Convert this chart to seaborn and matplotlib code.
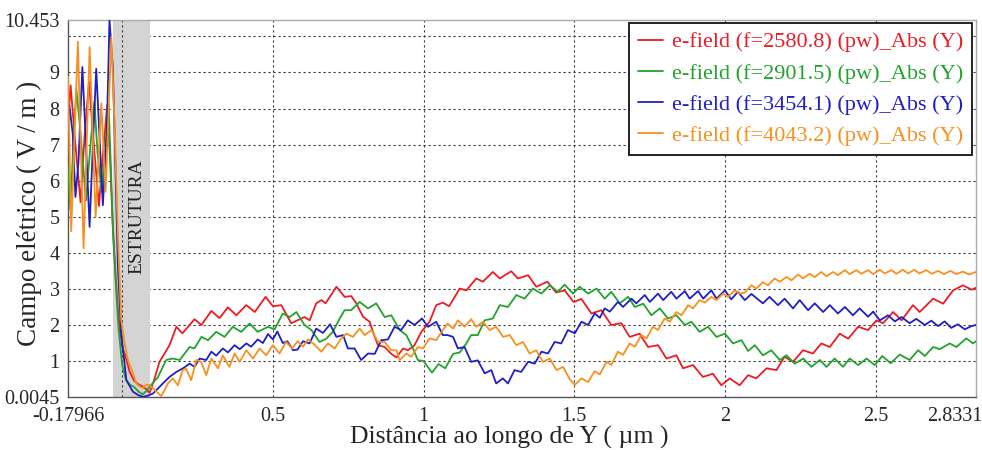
import matplotlib
matplotlib.use("Agg")
import matplotlib.pyplot as plt
import matplotlib.transforms as mtransforms
import seaborn as sns
import pandas as pd

# ---------------- data ----------------
labels = ["e-field (f=2580.8) (pw)_Abs (Y)",
          "e-field (f=2901.5) (pw)_Abs (Y)",
          "e-field (f=3454.1) (pw)_Abs (Y)",
          "e-field (f=4043.2) (pw)_Abs (Y)"]
colors = ["#ec1c24", "#22a32c", "#1f1fc4", "#f7901e"]

red_pts = [(-0.17966, 7.6), (-0.171, 8.64), (-0.155, 7.0), (-0.138, 5.4), (-0.125, 7.2), (-0.11, 8.74),
           (-0.094, 7.0), (-0.077, 5.3), (-0.063, 6.8), (-0.0495, 8.1), (-0.04, 6.6), (-0.032, 4.9),
           (-0.022, 3.4), (-0.012, 2.2), (0.0, 1.4), (0.012, 1.1), (0.025, 0.7), (0.04, 0.45), (0.055, 0.35),
           (0.068, 0.3), (0.08, 0.22), (0.091, 0.12), (0.105, 0.45), (0.124, 0.98), (0.157, 1.44), (0.18, 1.95),
           (0.2, 1.77), (0.24, 2.16), (0.263, 2.0), (0.296, 2.39), (0.323, 2.19), (0.351, 2.49), (0.379, 2.27),
           (0.412, 2.55), (0.44, 2.36), (0.476, 2.78), (0.5, 2.52), (0.528, 2.55), (0.561, 2.05), (0.605, 2.22),
           (0.622, 2.13), (0.644, 2.6), (0.661, 2.69), (0.675, 2.6), (0.711, 3.06), (0.738, 2.78), (0.76, 2.8),
           (0.777, 2.6), (0.799, 2.23), (0.821, 2.09), (0.838, 1.67), (0.849, 1.44), (0.871, 1.39), (0.893, 1.2),
           (0.91, 1.1), (0.932, 1.35), (0.948, 1.3), (0.97, 1.44), (0.993, 1.81), (1.02, 2.09), (1.042, 2.55),
           (1.064, 2.62), (1.085, 2.52), (1.12, 3.01), (1.142, 2.96), (1.175, 3.29), (1.197, 3.2), (1.23, 3.47),
           (1.253, 3.29), (1.291, 3.49), (1.313, 3.29), (1.347, 3.38), (1.374, 3.06), (1.411, 3.2), (1.44, 2.9),
           (1.468, 2.96), (1.498, 2.64), (1.524, 2.72), (1.557, 2.32), (1.59, 2.41), (1.623, 2.0), (1.656, 2.05),
           (1.684, 1.67), (1.717, 1.76), (1.745, 1.39), (1.778, 1.44), (1.806, 1.07), (1.839, 1.16), (1.861, 0.8),
           (1.894, 0.89), (1.927, 0.56), (1.96, 0.65), (1.988, 0.33), (2.016, 0.52), (2.049, 0.33), (2.077, 0.61),
           (2.104, 0.52), (2.138, 0.8), (2.171, 0.75), (2.198, 1.12), (2.226, 0.98), (2.259, 1.3), (2.292, 1.21),
           (2.32, 1.49), (2.348, 1.39), (2.381, 1.76), (2.409, 1.62), (2.442, 1.95), (2.475, 1.86), (2.503, 2.13),
           (2.525, 2.05), (2.558, 2.36), (2.586, 2.13), (2.624, 2.55), (2.646, 2.36), (2.691, 2.73), (2.724, 2.59),
           (2.757, 2.96), (2.79, 3.1), (2.818, 2.98), (2.8331, 3.03)]

green_pts = [(-0.17966, 6.4), (-0.172, 5.2), (-0.162, 7.0), (-0.152, 8.55), (-0.14, 7.5), (-0.12, 5.45),
             (-0.105, 7.0), (-0.092, 8.2), (-0.082, 6.8), (-0.068, 5.7), (-0.055, 7.0), (-0.045, 8.15),
             (-0.038, 6.5), (-0.03, 4.5), (-0.02, 3.0), (-0.012, 1.9), (0.0, 0.9), (0.012, 0.5), (0.025, 0.35),
             (0.04, 0.28), (0.055, 0.15), (0.068, 0.08), (0.078, 0.15), (0.091, 0.29), (0.119, 0.56),
             (0.146, 1.03), (0.168, 1.07), (0.191, 1.03), (0.224, 1.39), (0.24, 1.35), (0.263, 1.67),
             (0.285, 1.58), (0.312, 1.81), (0.34, 1.67), (0.367, 1.95), (0.395, 1.81), (0.423, 2.04), (0.45, 1.81),
             (0.484, 1.95), (0.506, 1.88), (0.533, 2.32), (0.556, 2.22), (0.578, 2.36), (0.605, 2.0),
             (0.628, 1.86), (0.655, 1.53), (0.677, 1.62), (0.699, 1.81), (0.722, 2.18), (0.738, 2.41),
             (0.76, 2.41), (0.788, 2.64), (0.816, 2.46), (0.843, 2.6), (0.871, 2.22), (0.893, 2.27),
             (0.921, 1.86), (0.943, 1.72), (0.965, 1.35), (0.981, 1.03), (1.0, 1.0), (1.028, 0.68), (1.05, 0.92),
             (1.072, 0.8), (1.098, 1.2), (1.12, 1.24), (1.142, 1.49), (1.158, 1.72), (1.18, 1.72), (1.203, 2.13),
             (1.23, 2.18), (1.253, 2.55), (1.28, 2.5), (1.308, 2.83), (1.335, 2.73), (1.363, 3.01), (1.391, 2.87),
             (1.419, 3.1), (1.446, 2.92), (1.468, 3.12), (1.496, 2.87), (1.518, 3.06), (1.546, 2.87),
             (1.574, 3.01), (1.601, 2.73), (1.623, 2.92), (1.651, 2.6), (1.679, 2.78), (1.701, 2.5), (1.729, 2.59),
             (1.756, 2.27), (1.784, 2.46), (1.811, 2.18), (1.839, 2.27), (1.867, 2.0), (1.889, 2.09),
             (1.916, 1.81), (1.944, 1.95), (1.972, 1.67), (2.0, 1.76), (2.027, 1.49), (2.055, 1.58),
             (2.077, 1.28), (2.099, 1.44), (2.126, 1.16), (2.154, 1.3), (2.182, 1.03), (2.204, 1.16),
             (2.232, 0.93), (2.26, 1.07), (2.287, 0.84), (2.315, 1.03), (2.337, 0.84), (2.364, 1.07),
             (2.392, 0.84), (2.414, 1.07), (2.442, 0.89), (2.47, 1.07), (2.497, 0.89), (2.522, 1.14),
             (2.55, 0.94), (2.58, 1.18), (2.613, 1.03), (2.641, 1.3), (2.663, 1.14), (2.691, 1.39),
             (2.713, 1.33), (2.746, 1.49), (2.768, 1.39), (2.801, 1.63), (2.823, 1.49), (2.8331, 1.55)]

blue_pts = [(-0.17966, 7.6), (-0.175, 8.09), (-0.164, 7.3), (-0.155, 5.55), (-0.145, 6.5), (-0.132, 9.15),
            (-0.12, 7.0), (-0.108, 4.72), (-0.097, 7.0), (-0.086, 9.1), (-0.075, 7.2), (-0.064, 5.32),
            (-0.051, 7.3), (-0.042, 10.45), (-0.031, 9.15), (-0.025, 7.3), (-0.014, 3.61), (-0.003, 1.76),
            (0.014, 0.47), (0.036, 0.15), (0.055, 0.05), (0.069, 0.01), (0.085, 0.04), (0.102, 0.1),
            (0.113, 0.19), (0.135, 0.38), (0.157, 0.56), (0.18, 0.7), (0.202, 0.8), (0.224, 0.93), (0.24, 0.84),
            (0.257, 1.07), (0.279, 1.03), (0.296, 1.26), (0.312, 1.15), (0.334, 1.35), (0.351, 1.24),
            (0.373, 1.44), (0.39, 1.33), (0.412, 1.49), (0.428, 1.4), (0.45, 1.6), (0.467, 1.5), (0.484, 1.75),
            (0.5, 1.6), (0.515, 1.82), (0.533, 1.5), (0.548, 1.55), (0.567, 1.3), (0.582, 1.32), (0.6, 1.55),
            (0.622, 1.49), (0.644, 1.9), (0.666, 1.78), (0.69, 2.02), (0.711, 1.67), (0.733, 1.72),
            (0.749, 1.35), (0.771, 1.35), (0.793, 1.03), (0.816, 1.21), (0.838, 1.2), (0.86, 1.58),
            (0.882, 1.6), (0.904, 1.95), (0.926, 1.86), (0.948, 2.13), (0.97, 2.0), (0.995, 2.18),
            (1.015, 1.95), (1.042, 2.09), (1.064, 1.72), (1.08, 1.72), (1.098, 1.67), (1.114, 1.35),
            (1.136, 1.39), (1.158, 0.98), (1.18, 1.02), (1.203, 0.66), (1.225, 0.75), (1.241, 0.38),
            (1.263, 0.52), (1.28, 0.38), (1.302, 0.75), (1.324, 0.7), (1.347, 0.98), (1.369, 0.93),
            (1.391, 1.26), (1.413, 1.21), (1.435, 1.53), (1.457, 1.49), (1.479, 1.86), (1.502, 1.77),
            (1.524, 2.09), (1.546, 2.0), (1.568, 2.32), (1.585, 2.2), (1.601, 2.46), (1.618, 2.37),
            (1.645, 2.64), (1.662, 2.5), (1.69, 2.73), (1.706, 2.6), (1.734, 2.83), (1.751, 2.64),
            (1.778, 2.87), (1.795, 2.69), (1.822, 2.92), (1.839, 2.73), (1.867, 2.94), (1.883, 2.73),
            (1.911, 2.94), (1.928, 2.73), (1.955, 2.96), (1.972, 2.73), (2.0, 2.96), (2.021, 2.71),
            (2.043, 2.92), (2.066, 2.69), (2.088, 2.86), (2.126, 2.6), (2.148, 2.78), (2.176, 2.55),
            (2.198, 2.73), (2.226, 2.46), (2.248, 2.69), (2.276, 2.41), (2.298, 2.6), (2.326, 2.36),
            (2.348, 2.55), (2.375, 2.32), (2.398, 2.5), (2.425, 2.27), (2.447, 2.46), (2.475, 2.23),
            (2.492, 2.37), (2.514, 2.13), (2.541, 2.27), (2.564, 2.1), (2.586, 2.22), (2.613, 2.05),
            (2.635, 2.17), (2.663, 2.0), (2.685, 2.12), (2.707, 1.97), (2.729, 2.1), (2.751, 1.92),
            (2.773, 2.02), (2.796, 1.88), (2.818, 1.97), (2.8331, 2.0)]

orange_pts = [(-0.17966, 8.88), (-0.169, 4.6), (-0.147, 9.85), (-0.128, 4.13), (-0.108, 9.7), (-0.088, 5.0),
              (-0.069, 8.14), (-0.055, 5.69), (-0.036, 9.98), (-0.025, 7.5), (-0.014, 4.5), (-0.003, 2.13),
              (0.008, 1.5), (0.019, 1.03), (0.03, 0.8), (0.047, 0.38), (0.058, 0.3), (0.069, 0.25),
              (0.08, 0.35), (0.091, 0.33), (0.108, 0.2), (0.13, 0.03), (0.152, 0.38), (0.168, 0.52),
              (0.185, 0.33), (0.201, 0.75), (0.212, 0.79), (0.229, 0.47), (0.246, 1.03), (0.262, 0.98),
              (0.279, 0.61), (0.296, 1.07), (0.318, 0.8), (0.334, 1.16), (0.356, 0.84), (0.373, 1.21),
              (0.39, 0.98), (0.412, 1.3), (0.434, 1.07), (0.456, 1.35), (0.478, 1.16), (0.5, 1.44),
              (0.522, 1.21), (0.544, 1.53), (0.564, 1.35), (0.582, 1.55), (0.6, 1.4), (0.617, 1.6),
              (0.639, 1.45), (0.661, 1.26), (0.683, 1.49), (0.705, 1.35), (0.727, 1.63), (0.744, 1.76),
              (0.766, 1.67), (0.788, 1.9), (0.805, 1.72), (0.827, 1.86), (0.849, 1.53), (0.871, 1.53),
              (0.893, 1.3), (0.91, 1.3), (0.921, 1.03), (0.943, 1.21), (0.959, 1.12), (0.981, 1.39),
              (0.998, 1.35), (1.02, 1.63), (1.042, 1.58), (1.064, 1.86), (1.08, 2.04), (1.098, 1.9),
              (1.114, 2.13), (1.136, 1.95), (1.158, 2.16), (1.175, 1.95), (1.197, 2.09), (1.219, 1.86),
              (1.241, 1.95), (1.264, 1.67), (1.286, 1.72), (1.308, 1.44), (1.33, 1.53), (1.352, 1.21),
              (1.374, 1.3), (1.396, 0.98), (1.419, 1.07), (1.441, 0.75), (1.463, 0.84), (1.485, 0.5),
              (1.502, 0.34), (1.524, 0.52), (1.546, 0.42), (1.568, 0.72), (1.585, 0.63), (1.607, 0.98),
              (1.623, 0.89), (1.645, 1.26), (1.662, 1.17), (1.684, 1.49), (1.701, 1.4), (1.723, 1.72),
              (1.74, 1.63), (1.761, 1.95), (1.778, 1.86), (1.8, 2.18), (1.817, 2.09), (1.839, 2.36),
              (1.856, 2.27), (1.878, 2.55), (1.894, 2.46), (1.916, 2.69), (1.933, 2.62), (1.955, 2.78),
              (1.972, 2.69), (1.994, 2.87), (2.011, 2.78), (2.033, 2.96), (2.049, 2.87), (2.066, 2.9),
              (2.088, 3.1), (2.104, 3.01), (2.126, 3.19), (2.143, 3.1), (2.165, 3.29), (2.182, 3.2),
              (2.204, 3.33), (2.221, 3.24), (2.243, 3.4), (2.259, 3.29), (2.281, 3.42), (2.298, 3.33),
              (2.32, 3.47), (2.337, 3.35), (2.359, 3.47), (2.375, 3.38), (2.398, 3.52), (2.414, 3.41),
              (2.436, 3.52), (2.453, 3.42), (2.475, 3.52), (2.492, 3.41), (2.514, 3.53), (2.53, 3.43),
              (2.553, 3.52), (2.569, 3.42), (2.59, 3.53), (2.608, 3.43), (2.628, 3.53), (2.646, 3.43),
              (2.668, 3.52), (2.687, 3.42), (2.707, 3.5), (2.727, 3.41), (2.748, 3.5), (2.768, 3.41),
              (2.79, 3.48), (2.81, 3.4), (2.8331, 3.47)]

x_min, x_max = -0.17966, 2.8331
y_min, y_max = 0.0045, 10.453
x_grid = [0, 0.5, 1, 1.5, 2, 2.5]
x_ticks = [x_min, 0.5, 1, 1.5, 2, 2.5, x_max]
x_ticklabels = ["-0.17966", "0.5", "1", "1.5", "2", "2.5", "2.8331"]
y_ticks = [y_min, 1, 2, 3, 4, 5, 6, 7, 8, 9, 10, y_max]
y_ticklabels = ["0.0045", "1", "2", "3", "4", "5", "6", "7", "8", "9", "", "10.453"]
struct_x0, struct_x1 = -0.031, 0.091
struct_label = "ESTRUTURA"
xlabel = "Distância ao longo de Y ( µm )"
ylabel = "Campo elétrico ( V / m )"

# ---------------- build long-form table ----------------
rows = []
for lab, pts in zip(labels, [red_pts, green_pts, blue_pts, orange_pts]):
    for x, y in pts:
        rows.append({"x": x, "y": y, "serie": lab})
df = pd.DataFrame(rows)

# ---------------- plot ----------------
sns.set_style("white")
plt.rcParams["font.family"] = ["Liberation Serif", "DejaVu Serif"]

fig = plt.figure(figsize=(9.82, 4.5), dpi=100)
ax = fig.add_axes([68 / 982, 53 / 450, 908 / 982, 377 / 450])

# gray "structure" band
ax.axvspan(struct_x0, struct_x1, color="#d4d4d4", zorder=1, lw=0)

# grid (dotted)
for gx in x_grid:
    ax.axvline(gx, color="#3a3a3a", lw=0.8, ls=(0, (2, 2.5)), zorder=1.5)
for gy in range(1, 11):
    ax.axhline(gy, color="#3a3a3a", lw=0.8, ls=(0, (2, 2.5)), zorder=0.5)

sns.lineplot(data=df, x="x", y="y", hue="serie", palette=colors, hue_order=labels,
             estimator=None, sort=False, lw=1.3, ax=ax, zorder=3)

ax.text(0.05, 5.0, struct_label, rotation=90, ha="center", va="center",
        fontsize=14, color="#222222", zorder=2)

ax.set_xlim(x_min, x_max)
ax.set_ylim(y_min, y_max)
ax.set_xticks(x_ticks)
ax.set_xticklabels(x_ticklabels, fontsize=14.5)
ax.set_yticks(y_ticks)
ax.set_yticklabels(y_ticklabels, fontsize=14.5)
ax.tick_params(axis="both", direction="out", length=4, width=0.8, color="#444444")
ax.tick_params(axis="x", pad=3)
ax.tick_params(axis="y", pad=2)

# last x tick label sits left of the axis end, as in the reference
last = ax.get_xticklabels()[-1]
last.set_ha("right")
last.set_transform(last.get_transform() + mtransforms.ScaledTranslation(6 / 100, 0, fig.dpi_scale_trans))

ax.set_xlabel(xlabel, fontsize=18.5)
ax.set_ylabel(ylabel, fontsize=19.5)
ax.xaxis.set_label_coords(0.486, -0.1247)
ax.xaxis.label.set_va("baseline")
ax.yaxis.set_label_coords(-0.029, 0.487)

for side in ["left", "bottom"]:
    ax.spines[side].set_color("#555555")
    ax.spines[side].set_linewidth(1.0)
for side in ["top", "right"]:
    ax.spines[side].set_color("#aaaaaa")
    ax.spines[side].set_linewidth(1.0)

leg = ax.legend(loc="upper right", bbox_to_anchor=(0.996, 0.992), fontsize=16, frameon=True,
                fancybox=False, edgecolor="#111111", framealpha=1, handlelength=1.15,
                handletextpad=0.4, labelspacing=0.48, borderpad=0.4, borderaxespad=0.0)
leg.get_frame().set_linewidth(1.3)
for txt, line in zip(leg.get_texts(), leg.get_lines()):
    txt.set_color(line.get_color())
    line.set_linewidth(1.3)
leg.set_zorder(5)

fig.savefig("out.png", dpi=100)
